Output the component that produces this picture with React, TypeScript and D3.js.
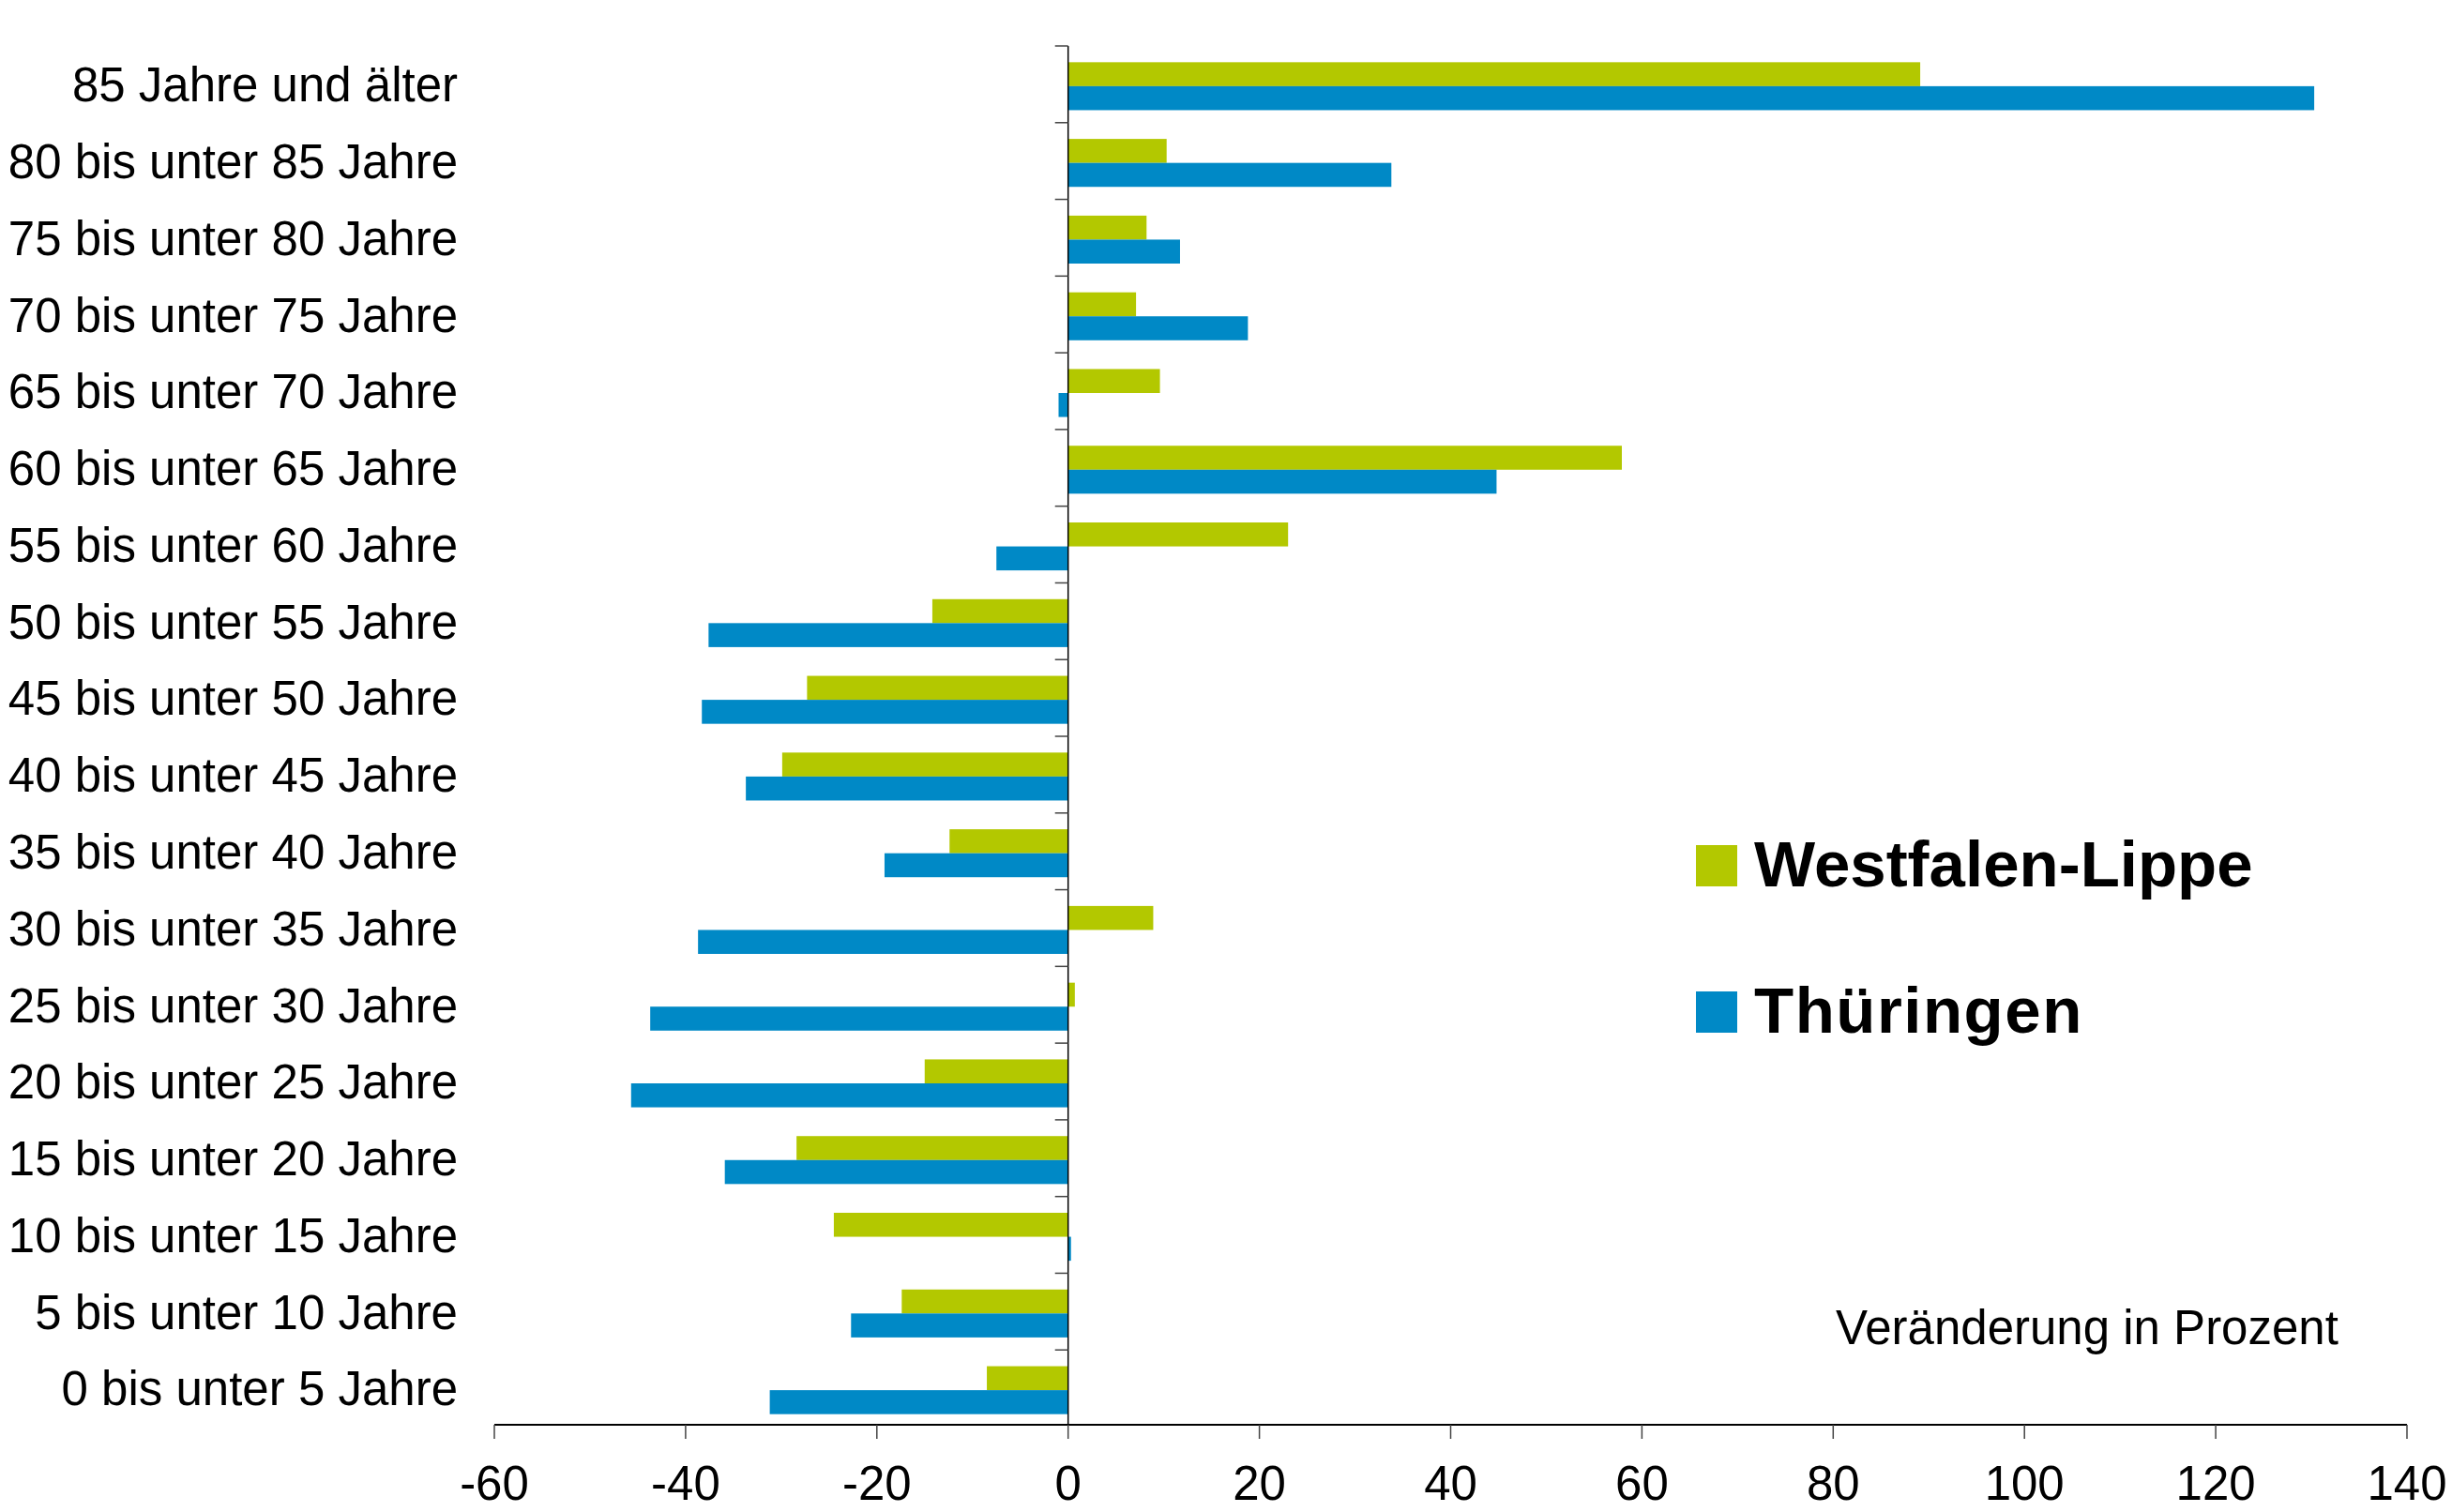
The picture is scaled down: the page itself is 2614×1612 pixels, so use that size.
import React from "react";
import * as d3 from "d3";

const categories = [
  "85 Jahre und älter",
  "80 bis unter 85 Jahre",
  "75 bis unter 80 Jahre",
  "70 bis unter 75 Jahre",
  "65 bis unter 70 Jahre",
  "60 bis unter 65 Jahre",
  "55 bis unter 60 Jahre",
  "50 bis unter 55 Jahre",
  "45 bis unter 50 Jahre",
  "40 bis unter 45 Jahre",
  "35 bis unter 40 Jahre",
  "30 bis unter 35 Jahre",
  "25 bis unter 30 Jahre",
  "20 bis unter 25 Jahre",
  "15 bis unter 20 Jahre",
  "10 bis unter 15 Jahre",
  "5 bis unter 10 Jahre",
  "0 bis unter 5 Jahre",
];

const westfalenLippe = [89.1, 10.3, 8.2, 7.1, 9.6, 57.9, 23.0, -14.2, -27.3, -29.9, -12.4, 8.9, 0.7, -15.0, -28.4, -24.5, -17.4, -8.5];
const thueringen = [130.3, 33.8, 11.7, 18.8, -1.0, 44.8, -7.5, -37.6, -38.3, -33.7, -19.2, -38.7, -43.7, -45.7, -35.9, 0.3, -22.7, -31.2];

const seriesNames = ["Westfalen-Lippe", "Thüringen"];
const seriesColors = ["#B3C800", "#0089C6"];
const xTicks = [-60, -40, -20, 0, 20, 40, 60, 80, 100, 120, 140];
const noteText = "Veränderung in Prozent";

const FONT = "'Liberation Sans', Arial, Helvetica, sans-serif";

export default function App() {
  const W = 2614;
  const H = 1612;
  const x = d3.scaleLinear().domain([-60, 140]).range([527, 2566]);
  const y = d3.scaleBand<string>().domain(categories).range([49, 1521]).padding(0);
  const inner = d3
    .scaleBand<string>()
    .domain(seriesNames)
    .range([0, y.bandwidth()])
    .paddingInner(0)
    .paddingOuter(0.6);
  const seriesData = [westfalenLippe, thueringen];
  const x0 = x(0);
  const axisY = 1519;

  return (
    <svg
      width={W}
      height={H}
      style={{ position: "absolute", left: 0, top: 0, background: "#fff" }}
      fontFamily={FONT}
    >
      <rect x={0} y={0} width={W} height={H} fill="#fff" />
      {/* bars */}
      {categories.map((c, i) => (
        <g key={c}>
          {seriesNames.map((s, k) => {
            const v = seriesData[k][i];
            const xv = x(v);
            return (
              <rect
                key={s}
                x={Math.min(xv, x0)}
                y={(y(c) as number) + (inner(s) as number) + 2}
                width={Math.abs(xv - x0)}
                height={inner.bandwidth()}
                fill={seriesColors[k]}
              />
            );
          })}
        </g>
      ))}
      {/* y axis */}
      <line x1={x0} x2={x0} y1={49} y2={axisY} stroke="#000" strokeWidth={1.5} />
      {categories.map((c) => (
        <line
          key={"t" + c}
          x1={x0 - 14}
          x2={x0}
          y1={y(c) as number}
          y2={y(c) as number}
          stroke="#444"
          strokeWidth={1.5}
        />
      ))}
      {categories.map((c) => (
        <text
          key={"l" + c}
          x={488}
          y={(y(c) as number) + y.bandwidth() / 2}
          dy="0.36em"
          textAnchor="end"
          fontSize={51}
          fill="#000"
        >
          {c}
        </text>
      ))}
      {/* x axis */}
      <line x1={x(-60)} x2={x(140)} y1={axisY} y2={axisY} stroke="#000" strokeWidth={2} />
      {xTicks.map((t) => (
        <g key={"x" + t}>
          <line x1={x(t)} x2={x(t)} y1={axisY} y2={axisY + 15} stroke="#444" strokeWidth={1.5} />
          <text x={x(t)} y={1599} textAnchor="middle" fontSize={51} fill="#000">
            {t}
          </text>
        </g>
      ))}
      {/* legend */}
      {seriesNames.map((s, k) => (
        <g key={"lg" + s}>
          <rect x={1808} y={901 + k * 156} width={44} height={44} fill={seriesColors[k]} />
          <text
            x={1870}
            y={945 + k * 156}
            fontSize={69}
            fontWeight="bold"
            fill="#000"
            letterSpacing={k === 1 ? 1.5 : 0}
          >
            {s}
          </text>
        </g>
      ))}
      <text x={1957} y={1433} fontSize={51} fill="#000">
        {noteText}
      </text>
    </svg>
  );
}
